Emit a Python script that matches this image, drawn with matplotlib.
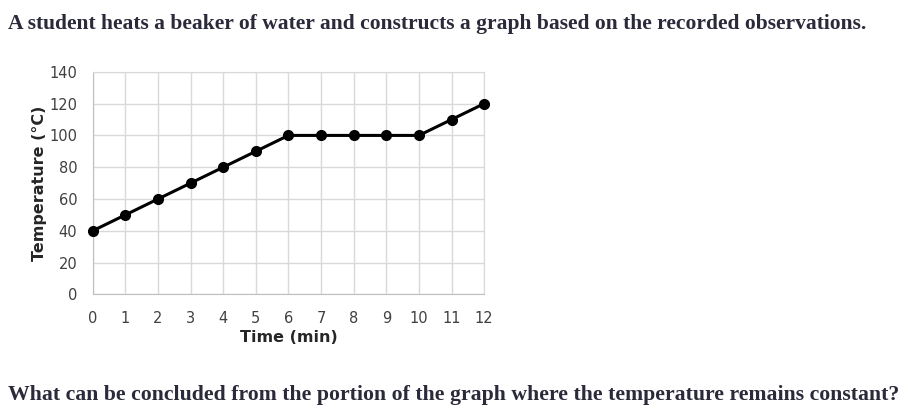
import numpy as np
import matplotlib.pyplot as plt

time_min = [0, 1, 2, 3, 4, 5, 6, 7, 8, 9, 10, 11, 12]
temperature = [40, 50, 60, 70, 80, 90, 100, 100, 100, 100, 100, 110, 120]
y_ticks = [0, 20, 40, 60, 80, 100, 120, 140]

question_top = "A student heats a beaker of water and constructs a graph based on the recorded observations."
question_bottom = "What can be concluded from the portion of the graph where the temperature remains constant?"

fig = plt.figure(figsize=(9, 4.2), dpi=100)
ax = fig.add_axes([0.103, 0.299, 0.435, 0.530])

ax.plot(time_min, temperature, color="black", linewidth=2.2, marker="o", markersize=7, zorder=3, clip_on=False)
ax.set_xlim(0, 12)
ax.set_ylim(0, 140)
ax.set_xticks(time_min)
ax.set_yticks(y_ticks)
ax.grid(True, color="#d9d9d9", linewidth=1)
ax.set_axisbelow(True)
for s in ax.spines.values():
    s.set_color("#d9d9d9")
ax.spines["left"].set_color("#bfbfbf")
ax.spines["bottom"].set_color("#bfbfbf")
ax.tick_params(length=0, labelsize=10.5, colors="#404040")
ax.tick_params(axis="x", pad=12)
ax.tick_params(axis="y", pad=11)
ax.set_xlabel("Time (min)", fontsize=11.5, fontweight="bold", color="#262626", labelpad=3)
ax.set_ylabel("Temperature (°C)", fontsize=11.5, fontweight="bold", color="#262626", labelpad=2)

fig.text(0.009, 0.944, question_top, fontsize=15.5, fontweight="bold", family="Liberation Serif",
         color="#2a2a3a", va="center", ha="left")
fig.text(0.009, 0.06, question_bottom, fontsize=15.7, fontweight="bold", family="Liberation Serif",
         color="#2a2a3a", va="center", ha="left")

fig.savefig("out.png", dpi=100)
